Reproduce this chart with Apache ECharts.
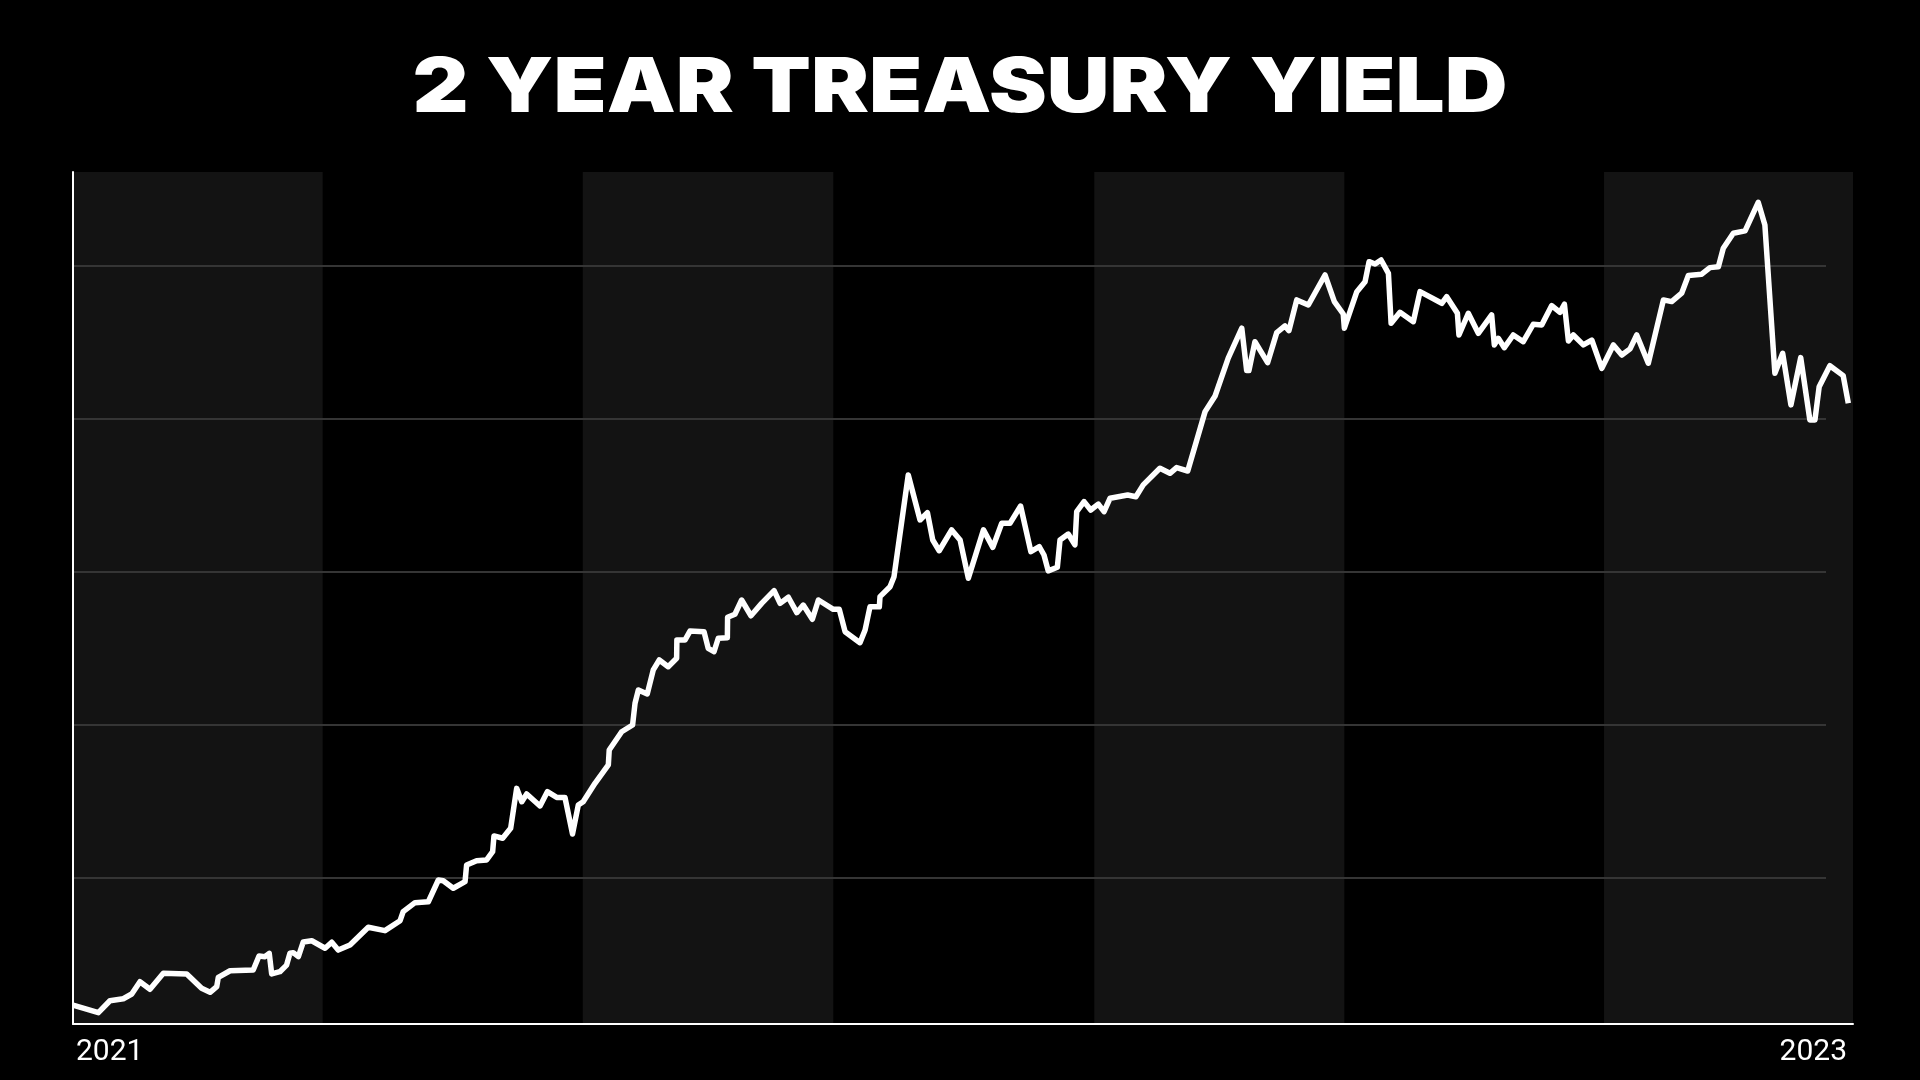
<!DOCTYPE html>
<html>
<head>
<meta charset="utf-8">
<script src="https://cdn.jsdelivr.net/npm/echarts@6/dist/echarts.min.js"></script>
<style>
html,body{margin:0;padding:0;background:#000;}
#chart{width:1920px;height:1080px;}
</style>
</head>
<body>
<div id="chart"></div>
<script>
// Title and tick labels
const titleText = '2 YEAR TREASURY YIELD';
const tickLabels = ['2021', '2023'];

// X positions of the observations (days since start of the window)
const days = [0, 11.4, 16.6, 22.6, 26.4, 30.1, 34.6, 40.6, 51.1, 57.8, 61.6, 64.6, 65.3, 70.6, 81.0, 83.6, 86.3, 88.2, 89.3, 93.0, 96.0, 97.5, 99.0, 101.3, 103.5, 107.3, 113.3, 116.3, 119.2, 124.5, 132.7, 140.2, 147.0, 148.4, 153.7, 159.7, 164.2, 166.4, 170.9, 176.2, 176.9, 181.4, 185.9, 188.6, 189.2, 193.1, 196.7, 199.4, 201.7, 203.9, 209.9, 213.2, 217.4, 221.1, 224.5, 227.1, 229.3, 234.6, 240.6, 241.0, 246.6, 251.5, 252.6, 254.1, 258.1, 260.8, 263.5, 267.5, 271.3, 271.4, 275.1, 277.3, 283.6, 285.5, 288.1, 290.0, 294.1, 294.2, 297.5, 300.5, 304.7, 309.5, 315.1, 317.8, 321.5, 325.3, 328.2, 332.3, 335.0, 341.7, 344.4, 347.0, 353.7, 356.0, 358.2, 362.4, 362.7, 367.2, 369.0, 375.4, 380.7, 384.0, 386.4, 389.3, 394.9, 398.7, 402.4, 409.2, 413.4, 417.4, 421.1, 425.9, 430.5, 434.3, 436.4, 438.3, 442.4, 443.6, 447.3, 450.3, 451.1, 454.4, 457.4, 460.8, 463.4, 466.1, 474.0, 477.7, 481.0, 488.5, 493.0, 496.0, 501.0, 508.8, 513.3, 519.2, 525.3, 527.5, 528.5, 531.2, 536.9, 541.0, 544.7, 546.5, 550.0, 555.2, 562.7, 566.9, 570.9, 571.4, 577.0, 580.7, 582.5, 585.2, 587.9, 591.2, 592.4, 596.4, 602.4, 605.4, 615.2, 617.4, 622.2, 622.9, 627.1, 631.6, 637.6, 638.8, 640.6, 643.3, 647.3, 651.8, 656.3, 660.1, 664.6, 668.3, 670.3, 672.1, 674.3, 678.8, 682.6, 687.1, 692.3, 696.1, 699.8, 702.8, 708.0, 714.8, 718.5, 723.0, 726.0, 732.0, 735.7, 739.5, 741.7, 746.2, 751.5, 757.4, 760.4, 764.9, 768.4, 772.1, 776.5, 780.6, 782.9, 784.8, 789.6, 795.6, 797.9];

// Yield values (chart units, gridlines at 1..5)
const yields = [0.168, 0.118, 0.196, 0.209, 0.240, 0.320, 0.271, 0.375, 0.371, 0.277, 0.251, 0.288, 0.349, 0.392, 0.397, 0.488, 0.484, 0.506, 0.371, 0.386, 0.429, 0.506, 0.510, 0.484, 0.580, 0.588, 0.539, 0.578, 0.527, 0.560, 0.676, 0.654, 0.719, 0.778, 0.837, 0.843, 0.985, 0.980, 0.931, 0.974, 1.083, 1.111, 1.116, 1.170, 1.273, 1.258, 1.323, 1.584, 1.497, 1.547, 1.469, 1.562, 1.525, 1.525, 1.286, 1.475, 1.497, 1.617, 1.737, 1.835, 1.954, 1.998, 2.140, 2.227, 2.201, 2.358, 2.423, 2.379, 2.434, 2.554, 2.554, 2.612, 2.608, 2.499, 2.477, 2.565, 2.569, 2.702, 2.722, 2.815, 2.712, 2.793, 2.876, 2.793, 2.833, 2.732, 2.782, 2.689, 2.815, 2.754, 2.754, 2.608, 2.536, 2.619, 2.771, 2.771, 2.837, 2.902, 2.967, 3.632, 3.338, 3.386, 3.207, 3.137, 3.273, 3.207, 2.957, 3.273, 3.159, 3.316, 3.316, 3.429, 3.131, 3.163, 3.109, 3.005, 3.029, 3.207, 3.246, 3.175, 3.392, 3.458, 3.403, 3.442, 3.392, 3.480, 3.501, 3.490, 3.567, 3.676, 3.643, 3.680, 3.658, 4.046, 4.148, 4.395, 4.591, 4.314, 4.314, 4.503, 4.366, 4.562, 4.606, 4.575, 4.776, 4.743, 4.939, 4.765, 4.684, 4.591, 4.830, 4.895, 5.026, 5.011, 5.037, 4.950, 4.624, 4.695, 4.634, 4.830, 4.754, 4.797, 4.689, 4.547, 4.689, 4.558, 4.678, 4.482, 4.525, 4.464, 4.547, 4.503, 4.617, 4.612, 4.739, 4.695, 4.748, 4.508, 4.547, 4.482, 4.514, 4.329, 4.482, 4.416, 4.456, 4.547, 4.362, 4.776, 4.765, 4.820, 4.935, 4.944, 4.987, 4.993, 5.114, 5.212, 5.227, 5.414, 5.266, 4.297, 4.427, 4.090, 4.399, 3.992, 3.992, 4.209, 4.346, 4.281, 4.101];

// Shaded period boundaries (same day units)
const bandEdges = [0, 112.2, 229.1, 341.7, 459.0, 571.4, 688.1, 800];

const xMin = 0, xMax = 800;
const yMin = 0.044, yMax = 5.612;

const n = Math.min(days.length, yields.length);
const lineData = [];
for (let i = 0; i < n; i++) lineData.push([days[i], yields[i]]);

const bandAreas = [];
for (let i = 0; i + 1 < bandEdges.length; i += 2) {
  bandAreas.push([{ xAxis: bandEdges[i] }, { xAxis: bandEdges[i + 1] }]);
}

const chart = echarts.init(document.getElementById('chart'), null, { renderer: 'canvas' });
chart.setOption({
  backgroundColor: '#000000',
  animation: false,
  graphic: [
    {
      type: 'text', x: 960, y: 89.5, scaleX: 1.144, scaleY: 1, z: 10,
      style: {
        text: titleText, fill: '#ffffff',
        fontFamily: 'Inter', fontWeight: 900, fontSize: 76,
        align: 'center', verticalAlign: 'middle'
      }
    }
  ],
  grid: [
    { left: 73, right: 67, top: 172, bottom: 56, containLabel: false },
    { left: 73, right: 94, top: 265.7, bottom: 202.3, containLabel: false }
  ],
  xAxis: [
    {
      gridIndex: 0, type: 'value', min: xMin, max: xMax, interval: xMax - xMin, z: 5,
      axisLine: { show: true, lineStyle: { color: '#ffffff', width: 2 } },
      axisTick: { show: false },
      splitLine: { show: false },
      axisLabel: {
        show: true, color: '#ffffff', fontFamily: 'Roboto', fontSize: 30, margin: 13,
        padding: [0, 6, 0, 3],
        alignMinLabel: 'left', alignMaxLabel: 'right',
        formatter: function (v) { return v === xMin ? tickLabels[0] : tickLabels[1]; }
      }
    },
    { gridIndex: 1, type: 'value', min: 0, max: 1, show: false }
  ],
  yAxis: [
    {
      gridIndex: 0, type: 'value', min: yMin, max: yMax, z: 5,
      axisLine: { show: true, lineStyle: { color: '#ffffff', width: 2 } },
      axisTick: { show: false }, axisLabel: { show: false }, splitLine: { show: false }
    },
    {
      gridIndex: 1, type: 'value', min: 1, max: 5, interval: 1, z: 2,
      axisLine: { show: false }, axisTick: { show: false }, axisLabel: { show: false },
      splitLine: { show: true, lineStyle: { color: '#353535', width: 2 } }
    }
  ],
  series: [
    {
      type: 'line', xAxisIndex: 0, yAxisIndex: 0, data: [], z: 0, silent: true,
      markArea: { silent: true, z: 0, itemStyle: { color: '#131313' }, data: bandAreas }
    },
    {
      type: 'line', xAxisIndex: 0, yAxisIndex: 0, data: lineData, z: 3,
      showSymbol: false, symbol: 'none',
      lineStyle: { color: '#ffffff', width: 5.5, join: 'round' }
    }
  ]
});
</script>
</body>
</html>
